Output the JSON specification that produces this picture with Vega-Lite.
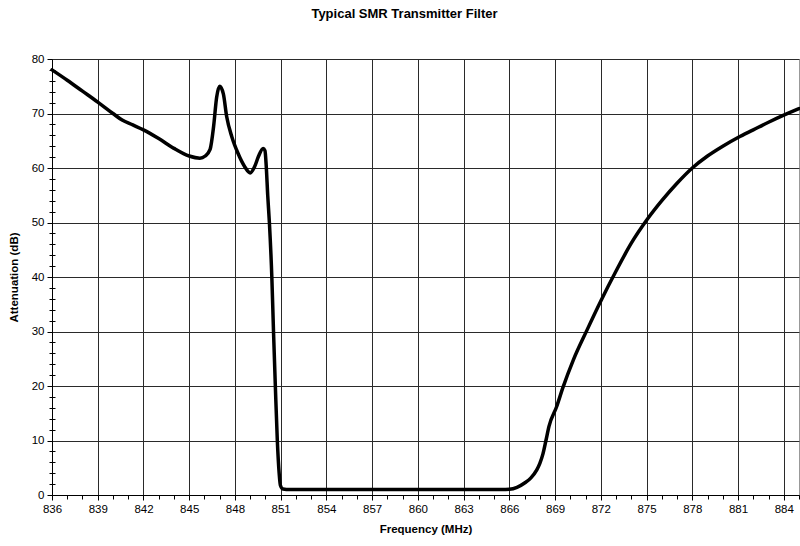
{
  "$schema": "https://vega.github.io/schema/vega-lite/v6.json",
  "width": 747,
  "height": 436,
  "autosize": "none",
  "padding": {"left": 52, "top": 59, "right": 1, "bottom": 51},
  "background": "white",
  "title": {
    "text": "Typical SMR Transmitter Filter",
    "font": "Liberation Sans",
    "fontSize": 13,
    "fontWeight": "bold",
    "color": "black",
    "anchor": "middle",
    "frame": "bounds",
    "offset": 32
  },
  "config": {
    "view": {"stroke": "#999999", "strokeWidth": 1},
    "axis": {
      "labelFont": "Liberation Sans",
      "labelFontSize": 11.5,
      "labelColor": "black",
      "titleFont": "Liberation Sans",
      "titleFontSize": 11.5,
      "titleFontWeight": "bold",
      "titleColor": "black",
      "domainColor": "black",
      "domainWidth": 1,
      "tickColor": "black",
      "tickWidth": 1,
      "gridColor": "#2a2a2a",
      "gridWidth": 1,
      "gridOpacity": 1,
      "labelFlush": false,
      "labelOverlap": false
    }
  },
  "data": {
    "values": [
      {"freq": 836.0, "atten": 78.0},
      {"freq": 837.0, "atten": 76.1},
      {"freq": 838.0, "atten": 74.1},
      {"freq": 839.0, "atten": 72.1},
      {"freq": 840.0, "atten": 70.0},
      {"freq": 840.6, "atten": 68.8},
      {"freq": 841.3, "atten": 67.9},
      {"freq": 842.0, "atten": 67.0},
      {"freq": 843.0, "atten": 65.4},
      {"freq": 844.0, "atten": 63.6},
      {"freq": 845.0, "atten": 62.2},
      {"freq": 845.7, "atten": 61.8},
      {"freq": 846.05, "atten": 62.2},
      {"freq": 846.37, "atten": 63.4},
      {"freq": 846.6, "atten": 67.6},
      {"freq": 846.8, "atten": 73.0},
      {"freq": 847.0, "atten": 75.0},
      {"freq": 847.24, "atten": 73.6},
      {"freq": 847.46, "atten": 69.4},
      {"freq": 847.8, "atten": 65.7},
      {"freq": 848.2, "atten": 62.7},
      {"freq": 848.65, "atten": 60.2},
      {"freq": 849.0, "atten": 59.1},
      {"freq": 849.3, "atten": 60.3},
      {"freq": 849.54, "atten": 62.1},
      {"freq": 849.85, "atten": 63.6},
      {"freq": 849.97, "atten": 63.2},
      {"freq": 850.05, "atten": 60.5},
      {"freq": 850.15, "atten": 55.0},
      {"freq": 850.26, "atten": 50.0},
      {"freq": 850.42, "atten": 40.0},
      {"freq": 850.53, "atten": 30.0},
      {"freq": 850.65, "atten": 20.0},
      {"freq": 850.78, "atten": 10.0},
      {"freq": 850.9, "atten": 4.0},
      {"freq": 850.98, "atten": 1.8},
      {"freq": 851.15, "atten": 1.1},
      {"freq": 851.6, "atten": 1.0},
      {"freq": 854.0, "atten": 1.0},
      {"freq": 857.0, "atten": 1.0},
      {"freq": 860.0, "atten": 1.0},
      {"freq": 863.0, "atten": 1.0},
      {"freq": 865.5, "atten": 1.0},
      {"freq": 866.0, "atten": 1.05},
      {"freq": 866.5, "atten": 1.4},
      {"freq": 867.0, "atten": 2.2},
      {"freq": 867.4, "atten": 3.1},
      {"freq": 867.8, "atten": 4.6},
      {"freq": 868.0, "atten": 5.8},
      {"freq": 868.2, "atten": 7.5},
      {"freq": 868.4, "atten": 10.0},
      {"freq": 868.6, "atten": 12.6},
      {"freq": 869.1, "atten": 16.2},
      {"freq": 869.5, "atten": 19.6},
      {"freq": 870.2, "atten": 24.8},
      {"freq": 871.1, "atten": 30.3},
      {"freq": 872.0, "atten": 35.6},
      {"freq": 873.0, "atten": 41.1},
      {"freq": 874.0, "atten": 46.2},
      {"freq": 875.0, "atten": 50.4},
      {"freq": 876.0, "atten": 54.0},
      {"freq": 877.0, "atten": 57.2},
      {"freq": 878.0, "atten": 60.0},
      {"freq": 879.0, "atten": 62.2},
      {"freq": 880.0, "atten": 64.0},
      {"freq": 881.0, "atten": 65.6},
      {"freq": 882.0, "atten": 67.0},
      {"freq": 883.0, "atten": 68.4},
      {"freq": 884.0, "atten": 69.7},
      {"freq": 885.0, "atten": 70.9}
    ]
  },
  "layer": [
    {
      "mark": {"type": "line", "interpolate": "monotone", "color": "black", "strokeWidth": 3.5, "strokeJoin": "round", "strokeCap": "round"},
      "encoding": {
        "x": {
          "field": "freq",
          "type": "quantitative",
          "scale": {"domain": [836, 885], "nice": false, "zero": false},
          "axis": {
            "orient": "bottom",
            "title": "Frequency (MHz)",
            "values": [836, 839, 842, 845, 848, 851, 854, 857, 860, 863, 866, 869, 872, 875, 878, 881, 884],
            "grid": true,
            "tickSize": 5,
            "labelPadding": 3,
            "titlePadding": 9
          }
        },
        "y": {
          "field": "atten",
          "type": "quantitative",
          "scale": {"domain": [0, 80], "nice": false},
          "axis": {
            "orient": "left",
            "title": "Attenuation (dB)",
            "values": [0, 10, 20, 30, 40, 50, 60, 70, 80],
            "grid": true,
            "tickSize": 5,
            "labelPadding": 3,
            "titlePadding": 12
          }
        }
      }
    },
    {
      "mark": {"type": "line", "opacity": 0},
      "encoding": {
        "x": {
          "field": "freq",
          "type": "quantitative",
          "axis": {
            "orient": "bottom",
            "title": null,
            "labels": false,
            "domain": false,
            "grid": false,
            "tickSize": 4,
            "values": [837, 838, 840, 841, 843, 844, 846, 847, 849, 850, 852, 853, 855, 856, 858, 859, 861, 862, 864, 865, 867, 868, 870, 871, 873, 874, 876, 877, 879, 880, 882, 883, 885]
          }
        },
        "y": {
          "field": "atten",
          "type": "quantitative",
          "axis": {
            "orient": "left",
            "title": null,
            "labels": false,
            "domain": false,
            "grid": false,
            "tickSize": 6,
            "offset": -3,
            "values": [2, 4, 6, 8, 12, 14, 16, 18, 22, 24, 26, 28, 32, 34, 36, 38, 42, 44, 46, 48, 52, 54, 56, 58, 62, 64, 66, 68, 72, 74, 76, 78]
          }
        }
      }
    }
  ],
  "resolve": {"axis": {"x": "independent", "y": "independent"}}
}
